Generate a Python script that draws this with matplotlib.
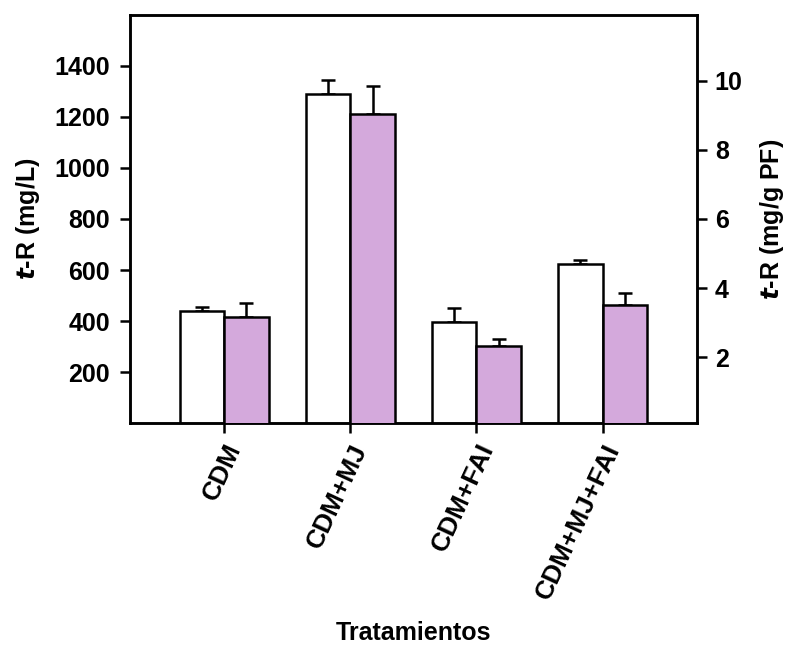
import numpy as np
import matplotlib.pyplot as plt

plt.rcParams['font.family'] = ['Liberation Sans', 'DejaVu Sans']
plt.rcParams['font.weight'] = 'bold'

tratamientos = ['CDM', 'CDM+MJ', 'CDM+FAI', 'CDM+MJ+FAI']
# t-R (mg/L), white bars, left axis
tr_mgL = [438, 1288, 395, 623]
tr_mgL_err = [17, 56, 55, 16]
# t-R (mg/g PF), purple bars, right axis
tr_mgg = [3.15, 9.03, 2.33, 3.51]
tr_mgg_err = [0.41, 0.82, 0.21, 0.36]

purple = '#D4A9DC'
fs = 18
w = 0.353
x = np.arange(len(tratamientos))

fig = plt.figure(figsize=(7.86, 6.45), dpi=100)
ax = fig.add_axes([0.1648, 0.3437, 0.7216, 0.6338])
ax2 = ax.twinx()

ax.bar(x - w / 2, tr_mgL, w, color='white', edgecolor='black', linewidth=1.8, zorder=3)
ax.errorbar(x - w / 2, tr_mgL, yerr=[np.zeros(4), tr_mgL_err], fmt='none',
            ecolor='black', elinewidth=1.8, capsize=5.2, capthick=1.8, zorder=2)
ax2.bar(x + w / 2, tr_mgg, w, color=purple, edgecolor='black', linewidth=1.8, zorder=3)
ax2.errorbar(x + w / 2, tr_mgg, yerr=[np.zeros(4), tr_mgg_err], fmt='none',
             ecolor='black', elinewidth=1.8, capsize=5.2, capthick=1.8, zorder=2)

ax.set_xlim(-0.749, 3.745)
ax.set_ylim(0, 1600)
ax2.set_ylim(0.09, 11.91)
ax.set_yticks(range(200, 1401, 200))
ax2.set_yticks(range(2, 11, 2))
ax.set_xticks(x)
ax.set_xticklabels(tratamientos, rotation=65, ha='right', va='top',
                   rotation_mode='anchor', fontsize=19, fontweight='bold')

ax.tick_params(axis='y', direction='out', length=7, width=1.8, labelsize=fs, pad=7)
ax.tick_params(axis='x', direction='out', length=7, width=1.8, pad=5)
ax2.tick_params(axis='y', direction='out', length=7, width=1.8, labelsize=fs, pad=6)
for a in (ax, ax2):
    for s in a.spines.values():
        s.set_linewidth(1.8)

ax.set_ylabel('$\\bf{\\it{t}}$-R (mg/L)', fontsize=fs, fontweight='bold', va='center')
ax.yaxis.set_label_coords(-0.179, 0.5)
ax2.set_ylabel('$\\bf{\\it{t}}$-R (mg/g PF)', fontsize=fs, fontweight='bold',
               rotation=90, va='center')
ax2.yaxis.set_label_coords(1.132, 0.5)
ax.set_xlabel('Tratamientos', fontsize=fs, fontweight='bold', va='center')
ax.xaxis.set_label_coords(0.5, -0.513)

plt.savefig('out.png', dpi=100)
